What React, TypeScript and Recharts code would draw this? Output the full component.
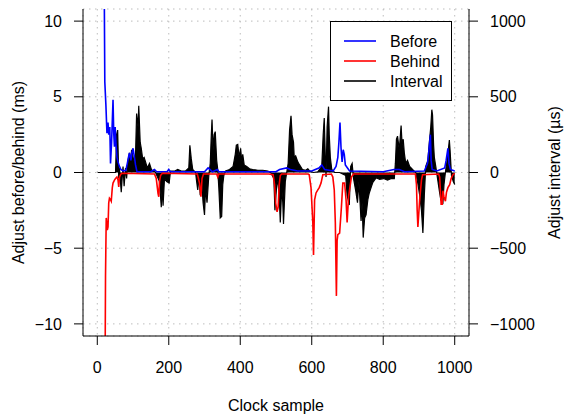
import { ComposedChart, Line, Area, XAxis, YAxis, CartesianGrid, Legend } from "recharts";

const FONT = '"Liberation Sans", Arial, Helvetica, sans-serif';

// [clock sample, adjustment]
const before: [number, number][] = [
  [19, 14], [21, 6.0], [24, 4.5], [27, 2.6], [30, 3.3], [32, 2.5], [35, 3.0], [37, 0.6], [40, 2.0],
  [44, 4.8], [46, 2.6], [48, 1.7], [50, 3.0], [52, 2.0], [55, 1.0], [58, 0.7], [62, 0.4], [66, 0.2],
  [72, 0.1], [80, 0.15], [84, 0.6], [88, 1.1], [90, 1.3], [94, 0.8], [97, 1.3], [100, 1.6], [104, 1.0],
  [107, 0.5], [111, 0.05], [150, 0.05], [160, 0.2], [166, 0.05], [195, 0.05], [200, 0.2], [204, 0.05],
  [300, 0.05], [310, 0.3], [315, 0.2], [322, 0.05], [336, 0.2], [340, 0.05], [500, 0.05], [510, 0.2],
  [530, 0.3], [540, 0.2], [560, 0.1], [600, 0.1], [620, 0.3], [628, 0.5], [636, 0.2], [660, 0.1],
  [668, 0.4], [673, 1.0], [676, 2.0], [679, 3.3], [682, 1.6], [685, 0.7], [688, 1.5], [691, 1.2],
  [694, 0.5], [700, 0.3], [706, 0.1], [800, 0.05], [830, 0.2], [845, 0.2], [860, 0.05], [915, 0.1],
  [924, 0.6], [928, 1.5], [932, 2.5], [934, 0.8], [937, 0.2], [950, 0.1], [972, 0.3], [976, 0.8],
  [981, 1.6], [984, 0.6], [988, 0.2], [1000, 0.1],
];

const behind: [number, number][] = [
  [20, -14], [22, -12], [23, -6.8], [25, -3.0], [27, -3.5], [28, -3.8], [30, -3.6], [32, -2.0],
  [34, -1.7], [37, -1.8], [39, -1.9], [42, -1.0], [44, -0.7], [48, -0.5], [51, -0.4], [55, -0.3],
  [58, -0.5], [60, -0.95], [62, -0.3], [66, -0.1], [70, -0.05], [160, -0.1], [165, -0.4], [170, -1.4],
  [172, -1.6], [174, -0.6], [177, -0.2], [182, -0.05], [280, -0.1], [286, -0.7], [290, -1.6],
  [293, -0.4], [297, -0.1], [334, -0.1], [337, -0.3], [340, -0.1], [480, -0.1], [492, -0.15],
  [496, -0.8], [499, -2.0], [503, -2.6], [506, -2.3], [509, -0.8], [512, -0.2], [516, -0.1],
  [590, -0.1], [593, -0.15], [598, -1.0], [603, -3.3], [605, -5.45], [608, -1.8], [612, -1.35],
  [617, -1.15], [621, -1.0], [626, -0.7], [631, -0.15], [655, -0.1], [659, -0.3], [663, -1.15],
  [666, -3.3], [669, -8.15], [671, -4.5], [673, -4.1], [678, -4.0], [683, -2.3], [687, -0.7],
  [692, -0.7], [696, -1.8], [699, -3.3], [703, -1.6], [711, -0.3], [717, -0.1], [890, -0.1],
  [893, -0.8], [895, -2.5], [897, -3.6], [902, -1.8], [907, -0.5], [910, -0.15], [955, -0.1],
  [958, -0.3], [962, -2.1], [965, -2.1], [967, -1.2], [970, -1.6], [974, -1.9], [977, -1.3],
  [981, -1.0], [986, -0.8], [990, -0.4], [995, -0.15], [1000, -0.05],
];

// interval adjustment in µs (right axis)
const interval: [number, number][] = [
  [1, 0], [51, 0], [54, 250], [57, 280], [60, -40], [62, 30], [67, -130], [69, -60], [72, 40], [75, -90],
  [79, 30], [82, -40], [86, 80], [90, 130], [93, 60], [96, 150], [102, 80], [107, 120], [110, 390],
  [114, 300], [116, 440], [120, 200], [123, 160], [127, 90], [131, 100], [135, 70], [140, 30], [146, 60],
  [152, 15], [158, 15], [163, 0], [174, -60], [179, -230], [182, -80], [184, -220], [188, -40],
  [194, -60], [201, -70], [205, 10], [217, 10], [225, 20], [235, 10], [247, 10], [256, 30], [259, 180],
  [263, 90], [267, 20], [275, 0], [278, -60], [281, -115], [285, -30], [288, -150], [292, -60],
  [296, -200], [300, -280], [303, -100], [307, -200], [312, -20], [316, 60], [319, 250], [321, 350],
  [324, 150], [327, 250], [330, 270], [334, 80], [337, 20], [340, -100], [344, -300], [348, -290],
  [351, -80], [354, -20], [359, 10], [370, 20], [380, 40], [386, 120], [389, 180], [393, 185],
  [397, 100], [401, 160], [404, 80], [407, 120], [411, 50], [418, 40], [426, 25], [435, 20], [449, 15],
  [463, 15], [477, 10], [485, 0], [494, -40], [497, -250], [502, -80], [505, -60], [509, -150],
  [512, -330], [516, -100], [519, -200], [521, -340], [526, -60], [530, 0], [534, 60], [538, 280],
  [542, 375], [545, 250], [549, 200], [551, 100], [555, 110], [561, 70], [566, 50], [574, 20],
  [583, 15], [589, 25], [594, 10], [605, 0], [617, 5], [628, 40], [632, 250], [635, 360], [638, 100],
  [640, -30], [643, 300], [647, 435], [649, 250], [652, 100], [656, 20], [664, 0], [678, 0], [695, -20],
  [699, -150], [705, -215], [709, 40], [713, 60], [717, -40], [723, -120], [728, -200], [732, -60],
  [738, -320], [741, -200], [744, -430], [748, -300], [752, -280], [757, -180], [761, -135],
  [766, -100], [771, -65], [780, -35], [790, -45], [801, -40], [812, -50], [823, -40], [831, -40],
  [834, 60], [837, 220], [840, 240], [845, 150], [850, 310], [853, 180], [856, 220], [859, 130],
  [863, 60], [868, 80], [874, 40], [882, 20], [891, 0], [896, -60], [902, -150], [907, -250],
  [911, -400], [915, -150], [919, 40], [925, 80], [929, 200], [933, 300], [936, 415], [938, 380],
  [941, 180], [943, 100], [947, 40], [952, -40], [957, -120], [961, -180], [967, -200], [970, -80],
  [975, 20], [980, 100], [985, 215], [987, 150], [991, -20], [996, -60], [1000, -80],
];

const xTicks = [0, 200, 400, 600, 800, 1000];
const msTicks = [-10, -5, 0, 5, 10];
const usTicks = [-1000, -500, 0, 500, 1000];

const seriesNames = ["Before", "Behind", "Interval"];
const seriesColors = ["#0000ff", "#ff0000", "#000000"];

const toPoints = (rows: [number, number][]) => rows.map(([x, y]) => ({ x, y }));
const fmt = (v: number) => (v < 0 ? "\u2212" + Math.abs(v) : String(v));

const tickStyle = { fill: "#000", fontSize: 16, fontFamily: FONT };

function LegendBox() {
  return (
    <svg width={122} height={80} style={{ display: "block" }}>
      <rect x={0.5} y={0.5} width={121} height={79} fill="#fff" stroke="#000" />
      {seriesNames.map((name, i) => (
        <g key={name}>
          <line x1={14} x2={46} y1={20 + i * 20} y2={20 + i * 20} stroke={seriesColors[i]} strokeWidth={1.6} />
          <text x={60} y={20 + i * 20} dominantBaseline="central" fontSize={16} fontFamily={FONT} fill="#000">
            {name}
          </text>
        </g>
      ))}
    </svg>
  );
}

export default function App() {
  return (
    <div style={{ position: "absolute", left: 0, top: 0, background: "#fff" }}>
      <ComposedChart width={564} height={414} margin={{ top: 9, right: 0, bottom: 0, left: 0 }} style={{ fontFamily: FONT }}>
        <CartesianGrid yAxisId="left" stroke="#bdbdbd" strokeDasharray="1.5 4.5" />
        <XAxis
          dataKey="x"
          type="number"
          domain={[-40, 1040]}
          ticks={xTicks}
          height={78}
          tickSize={9}
          tickMargin={17}
          tick={tickStyle}
          stroke="#000"
          allowDataOverflow
        />
        <XAxis xAxisId="top" orientation="top" type="number" domain={[-40, 1040]} height={0} tick={false} tickLine={false} stroke="#000" />
        <YAxis
          yAxisId="left"
          type="number"
          domain={[-10.8, 10.8]}
          ticks={msTicks}
          tickFormatter={fmt}
          width={83}
          tickSize={9}
          tickMargin={12}
          tick={tickStyle}
          stroke="#000"
          allowDataOverflow
        />
        <YAxis
          yAxisId="right"
          orientation="right"
          type="number"
          domain={[-1080, 1080]}
          ticks={usTicks}
          tickFormatter={fmt}
          width={95}
          tickSize={9}
          tickMargin={12}
          tick={tickStyle}
          stroke="#000"
          allowDataOverflow
        />
        <Line yAxisId="left" data={toPoints(before)} dataKey="y" type="linear" stroke={seriesColors[0]} strokeWidth={1.6} dot={false} isAnimationActive={false} />
        <Line yAxisId="left" data={toPoints(behind)} dataKey="y" type="linear" stroke={seriesColors[1]} strokeWidth={1.6} dot={false} isAnimationActive={false} />
        <Area yAxisId="right" data={toPoints(interval)} dataKey="y" type="linear" baseValue={0} stroke={seriesColors[2]} strokeWidth={1.2} fill={seriesColors[2]} fillOpacity={1} isAnimationActive={false} />
        <Legend layout="vertical" align="center" verticalAlign="middle" wrapperStyle={{ left: 330, top: 21, width: 122, height: 80 }} content={() => <LegendBox />} />
        <text x={18} y={172.5} transform="rotate(-90 18 172.5)" textAnchor="middle" dominantBaseline="central" fontSize={16} fontFamily={FONT} fill="#000">
          Adjust before/behind (ms)
        </text>
        <text x={554} y={172.5} transform="rotate(-90 554 172.5)" textAnchor="middle" dominantBaseline="central" fontSize={16} fontFamily={FONT} fill="#000">
          Adjust interval (µs)
        </text>
        <text x={276} y={405} textAnchor="middle" dominantBaseline="central" fontSize={16} fontFamily={FONT} fill="#000">
          Clock sample
        </text>
      </ComposedChart>
    </div>
  );
}
